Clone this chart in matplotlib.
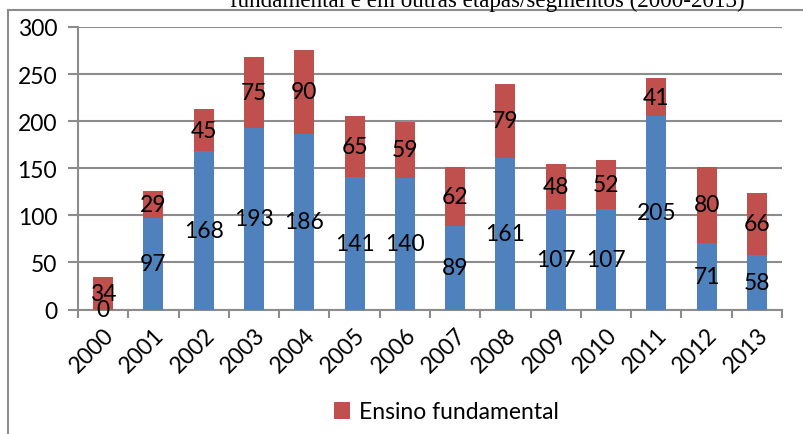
import numpy as np
import matplotlib
matplotlib.use("Agg")
import matplotlib.pyplot as plt
from matplotlib.lines import Line2D

# data
anos = ['2000', '2001', '2002', '2003', '2004', '2005', '2006',
        '2007', '2008', '2009', '2010', '2011', '2012', '2013']
outras = [0, 97, 168, 193, 186, 141, 140, 89, 161, 107, 107, 205, 71, 58]
fundamental = [34, 29, 45, 75, 90, 65, 59, 62, 79, 48, 52, 41, 80, 66]
yticks = [0, 50, 100, 150, 200, 250, 300]

azul = '#4F81BD'
vermelho = '#C0504D'
cinza = '#8C8C8C'
fonte = ['Lato', 'DejaVu Sans']
fs = 16.5

fig = plt.figure(figsize=(8.04, 4.35), dpi=100)
ax = fig.add_axes([78/804, 124.5/435, 704/804, 282.5/435])

x = np.arange(len(anos))
b1 = ax.bar(x, outras, width=0.4, color=azul, zorder=3)
b2 = ax.bar(x, fundamental, width=0.4, bottom=outras, color=vermelho,
            zorder=3, label='Ensino fundamental')

for i in range(len(anos)):
    ax.text(x[i], outras[i] / 2, str(outras[i]), ha='center', va='center',
            fontsize=fs, family=fonte, zorder=4)
    ax.text(x[i], outras[i] + fundamental[i] / 2, str(fundamental[i]),
            ha='center', va='center', fontsize=fs, family=fonte, zorder=4)

ax.set_xlim(-0.5, len(anos) - 0.5)
ax.set_ylim(0, 300)
ax.set_yticks(yticks)
ax.set_yticklabels([str(v) for v in yticks], family=fonte, fontsize=fs)
ax.yaxis.grid(True, color=cinza, linewidth=1.5, zorder=0)

ax.set_xticks(x)
ax.set_xticklabels(anos, rotation=45, ha='right', rotation_mode='anchor',
                   family=fonte, fontsize=fs)
ax.set_xticks(np.arange(-0.5, len(anos)), minor=True)
ax.tick_params(axis='x', which='major', length=0, pad=10)
ax.tick_params(axis='x', which='minor', length=6, width=1.5, color=cinza)
ax.tick_params(axis='y', length=7, width=1.5, color=cinza, pad=8)

for s in ['top', 'right']:
    ax.spines[s].set_visible(False)
for s in ['left', 'bottom']:
    ax.spines[s].set_color(cinza)
    ax.spines[s].set_linewidth(1.5)

leg = fig.legend(handles=[b2], loc='center', bbox_to_anchor=(0.555, 1 - 413/435),
                 frameon=False, prop={'family': fonte, 'size': fs},
                 handlelength=0.7, handleheight=0.7, handletextpad=0.4)

fig.text(0.606, 1 - 7/435, 'fundamental e em outras etapas/segmentos (2000-2013)',
         ha='center', va='baseline', fontsize=16.6, family='Liberation Serif')

fig.add_artist(Line2D([8/804, 1], [1 - 10.5/435, 1 - 10.5/435], color=cinza, lw=1.5,
                      transform=fig.transFigure))
fig.add_artist(Line2D([8/804, 8/804], [0, 1 - 10.5/435], color=cinza, lw=1.5,
                      transform=fig.transFigure))

fig.savefig('out.png', dpi=100)
